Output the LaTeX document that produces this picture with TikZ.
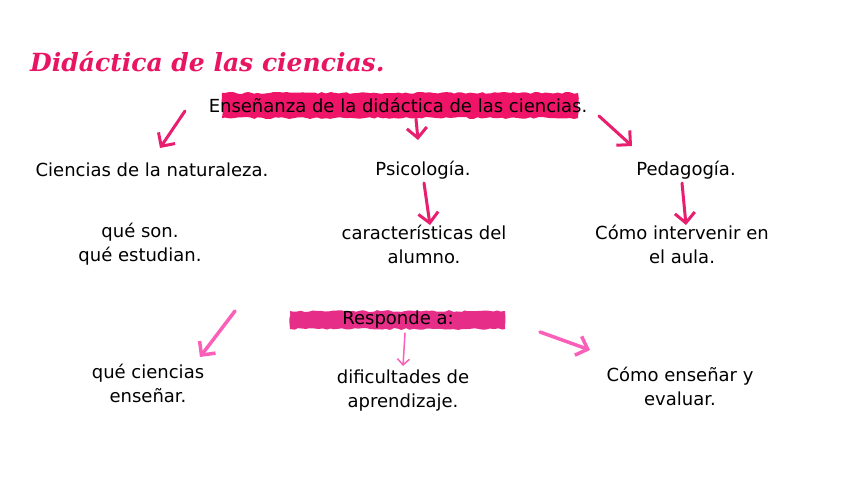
\documentclass[tikz,border=0pt]{standalone}
\usepackage{fontspec}
\setmainfont{DejaVu Sans}
\newfontfamily\titlefont{DejaVu Serif}
\usetikzlibrary{arrows.meta,decorations.pathmorphing}
\definecolor{titlepink}{RGB}{232,22,98}
\definecolor{barpink}{RGB}{240,20,105}
\definecolor{barpinkb}{RGB}{230,45,135}
\definecolor{arrdark}{RGB}{232,30,110}
\definecolor{arrlight}{RGB}{250,95,185}
\tikzset{
  txt/.style={font=\fontsize{18}{24}\selectfont, align=center, text=black, inner sep=0pt},
  ttl/.style={font=\titlefont\bfseries\itshape\fontsize{25}{28}\selectfont, text=titlepink, inner sep=0pt, anchor=west},
  brush/.style={decorate, decoration={random steps, segment length=4pt, amplitude=1pt}},
  darr/.style={draw=arrdark, line width=3pt, line cap=round, -{Straight Barb[length=10pt,width=20pt,line width=3pt]}},
  larr/.style={draw=arrlight, line width=3.5pt, line cap=round, -{Straight Barb[length=10pt,width=20pt,line width=3.5pt]}},
  thinarr/.style={draw=arrlight, line width=1.5pt, line cap=round, -{Straight Barb[length=6pt,width=12pt,line width=1.5pt]}}
}
\begin{document}
\begin{tikzpicture}[x=1pt,y=-1pt]
\useasboundingbox (0,0) rectangle (848,477);
\fill[white] (0,0) rectangle (848,477);
% title
\node[ttl] (title) at (30,62) {Didáctica de las ciencias.};
% bars
\fill[barpink, brush] (222,93) rectangle (578,118);
\fill[barpinkb, brush] (290,311) rectangle (505,329);
% texts
\node[txt] (ens) at (398,105) {Enseñanza de la didáctica de las ciencias.};
\node[txt] (cn) at (152,170) {Ciencias de la naturaleza.};
\node[txt] (psi) at (423,170) {Psicología.};
\node[txt] (ped) at (686,170) {Pedagogía.};
\node[txt] (qs) at (140,244) {qué son.\\qué estudian.};
\node[txt] (car) at (424,244) {características del\\alumno.};
\node[txt] (com) at (682,244) {Cómo intervenir en\\el aula.};
\node[txt] (resp) at (398,320) {Responde a:};
\node[txt] (qc) at (148,383) {qué ciencias\\enseñar.};
\node[txt] (dif) at (403,391) {dificultades de\\aprendizaje.};
\node[txt] (ce) at (680,386) {Cómo enseñar y\\evaluar.};
% arrow coordinates
\coordinate (a1s) at (185,111);
\coordinate (a1e) at (160,148);
\coordinate (a2s) at (416,119);
\coordinate (a2e) at (418,140);
\coordinate (a3s) at (599,116);
\coordinate (a3e) at (632,146);
\coordinate (a4s) at (424,183);
\coordinate (a4e) at (430,225);
\coordinate (a5s) at (682,183);
\coordinate (a5e) at (686,225);
\coordinate (b1s) at (235,311);
\coordinate (b1e) at (200,357);
\coordinate (b2s) at (405,333);
\coordinate (b2e) at (403,366);
\coordinate (b3s) at (540,332);
\coordinate (b3e) at (590,350);
\draw[darr] (a1s) -- (a1e);
\draw[darr] (a2s) -- (a2e);
\draw[darr] (a3s) -- (a3e);
\draw[darr] (a4s) -- (a4e);
\draw[darr] (a5s) -- (a5e);
\draw[larr] (b1s) -- (b1e);
\draw[thinarr] (b2s) -- (b2e);
\draw[larr] (b3s) -- (b3e);
\end{tikzpicture}
\end{document}
